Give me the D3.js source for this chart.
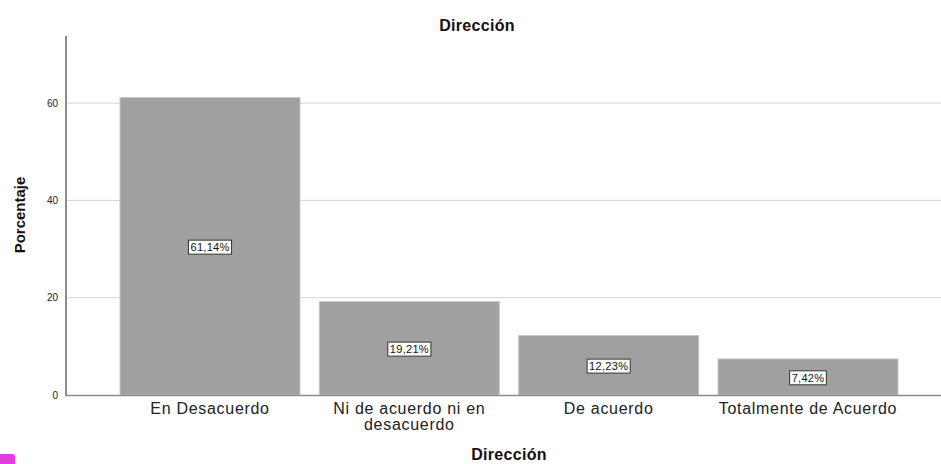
<!DOCTYPE html>
<html>
<head>
<meta charset="utf-8">
<script src="https://cdn.jsdelivr.net/npm/d3@7"></script>
<style>
  body { margin: 0; background: #fff; }
  svg { font-family: "Liberation Sans", Arial, sans-serif; }
</style>
</head>
<body>
<div id="chart"></div>
<script>
var categories = ["En Desacuerdo", "Ni de acuerdo ni en desacuerdo", "De acuerdo", "Totalmente de Acuerdo"];
var catLines = [["En Desacuerdo"], ["Ni de acuerdo ni en", "desacuerdo"], ["De acuerdo"], ["Totalmente de Acuerdo"]];
var values = [61.14, 19.21, 12.23, 7.42];
var valueLabels = ["61,14%", "19,21%", "12,23%", "7,42%"];
var yTicks = [0, 20, 40, 60];

var width = 941, height = 464;
var svg = d3.select("#chart").append("svg")
    .attr("width", width).attr("height", height);

var x = d3.scaleBand()
    .domain(categories)
    .range([66, 952])
    .paddingInner(0.097)
    .paddingOuter(0.271);

var y = d3.scaleLinear().domain([0, 73.8]).range([395, 36]);

// gridlines
svg.append("g").selectAll("line")
  .data(yTicks.filter(function(d) { return d > 0; }))
  .enter().append("line")
    .attr("x1", 66).attr("x2", width)
    .attr("y1", function(d) { return y(d); })
    .attr("y2", function(d) { return y(d); })
    .attr("stroke", "#d4d4d4").attr("stroke-width", 1);

// bars
svg.append("g").selectAll("rect")
  .data(values)
  .enter().append("rect")
    .attr("x", function(d, i) { return x(categories[i]); })
    .attr("width", x.bandwidth())
    .attr("y", function(d) { return y(d); })
    .attr("height", function(d) { return y(0) - y(d); })
    .attr("fill", "#a0a0a0")
    .attr("stroke", "#c8c8c8").attr("stroke-width", 1);

// value labels with box
var lab = svg.append("g").selectAll("g")
  .data(values)
  .enter().append("g")
    .attr("transform", function(d, i) {
      return "translate(" + (x(categories[i]) + x.bandwidth() / 2) + "," + ((y(d) + y(0)) / 2 + 1) + ")";
    });
lab.append("text")
    .attr("text-anchor", "middle").attr("dy", "0.35em")
    .attr("font-size", 11).attr("letter-spacing", 0.3).attr("fill", "#111")
    .text(function(d, i) { return valueLabels[i]; });
lab.each(function() {
  var g = d3.select(this), bb = g.select("text").node().getBBox();
  g.insert("rect", "text")
    .attr("x", bb.x - 2).attr("y", bb.y - 1)
    .attr("width", bb.width + 4).attr("height", bb.height + 2)
    .attr("fill", "#fff").attr("stroke", "#333").attr("stroke-width", 1);
});

// y axis
var yAxis = svg.append("g").attr("transform", "translate(66,0)")
  .call(d3.axisLeft(y).tickValues(yTicks).tickSize(0).tickPadding(8));
yAxis.select(".domain").remove();
yAxis.selectAll("text").attr("font-size", 10).attr("fill", "#222")
  .attr("font-family", "Liberation Sans, Arial, sans-serif");
svg.append("line").attr("x1", 66).attr("x2", 66).attr("y1", 36).attr("y2", 396)
  .attr("stroke", "#8c8c8c").attr("stroke-width", 2);

// x axis baseline
svg.append("line").attr("x1", 66).attr("x2", width).attr("y1", 395.5).attr("y2", 395.5)
  .attr("stroke", "#8c8c8c").attr("stroke-width", 1.5);

// category labels
var cat = svg.append("g").selectAll("text")
  .data(catLines)
  .enter().append("text")
    .attr("x", function(d, i) { return x(categories[i]) + x.bandwidth() / 2; })
    .attr("y", 414)
    .attr("text-anchor", "middle")
    .attr("font-size", 16).attr("letter-spacing", 0.7).attr("fill", "#222");
cat.selectAll("tspan")
  .data(function(d) { return d; })
  .enter().append("tspan")
    .attr("x", function() { return d3.select(this.parentNode).attr("x"); })
    .attr("dy", function(d, i) { return i === 0 ? 0 : 16; })
    .text(function(d) { return d; });

// titles
svg.append("text").attr("x", 477).attr("y", 31).attr("text-anchor", "middle")
  .attr("font-size", 16).attr("font-weight", "bold").attr("letter-spacing", 0.3)
  .attr("fill", "#111").text("Dirección");
svg.append("text").attr("x", 509).attr("y", 460).attr("text-anchor", "middle")
  .attr("font-size", 16).attr("font-weight", "bold").attr("letter-spacing", 0.3)
  .attr("fill", "#111").text("Dirección");
svg.append("text").attr("transform", "translate(25,215) rotate(-90)").attr("text-anchor", "middle")
  .attr("font-size", 15).attr("font-weight", "bold").attr("fill", "#111").text("Porcentaje");

// small corner marker
svg.append("rect").attr("x", -4).attr("y", 454).attr("width", 19).attr("height", 14).attr("rx", 3)
  .attr("fill", "#e03ce0");
</script>
</body>
</html>
